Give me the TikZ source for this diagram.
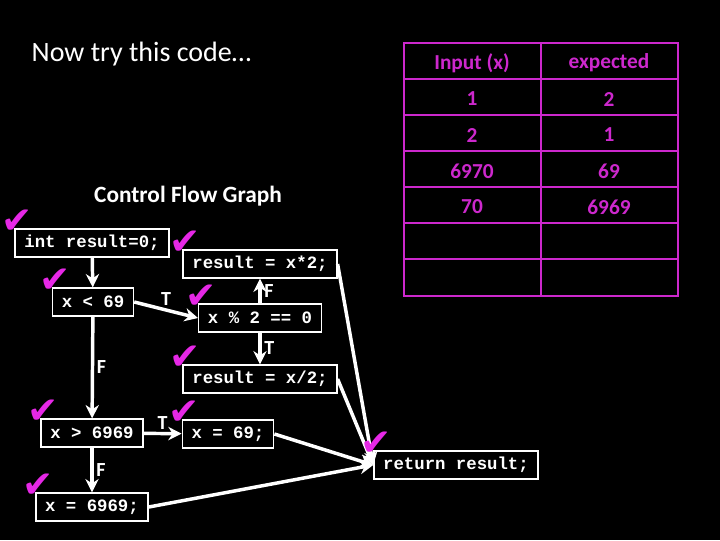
\documentclass[tikz,border=0pt]{standalone}
\usepackage{fontspec}
\setmainfont{Carlito}
\newfontfamily\codefont{Liberation Mono}
\newfontfamily\symfont{DejaVu Sans}
\usetikzlibrary{arrows.meta}
\definecolor{chkpink}{RGB}{230,40,230}
\definecolor{tblpink}{RGB}{205,40,205}
\tikzset{
  codebox/.style={draw=white, line width=1pt, fill=black, text=white,
    font=\codefont\bfseries\fontsize{13}{15}\selectfont,
    inner xsep=7pt, inner ysep=0pt, minimum height=21pt},
  flow/.style={draw=white, line width=2.6pt, -{Stealth[length=10pt,width=10pt]}},
  lbl/.style={text=white, font=\bfseries\fontsize{15}{17}\selectfont, inner sep=2pt},
  chk/.style={text=chkpink, font=\symfont\fontsize{28}{30}\selectfont, inner sep=0pt},
  tbl/.style={draw=tblpink, line width=1.4pt},
  cell/.style={text=tblpink, font=\bfseries\fontsize{16}{18}\selectfont}
}
\begin{document}
\begin{tikzpicture}[x=0.75pt, y=-0.75pt]
  \fill[black] (0,0) rectangle (720,540);
  \useasboundingbox (0,0) rectangle (720,540);

  % titulos
  \node[text=white, anchor=west, font=\fontsize{21}{24}\selectfont] (title) at (27,54) {Now try this code…};
  \node[text=white, font=\bfseries\fontsize{17.5}{20}\selectfont] (cfg) at (188,196) {Control Flow Graph};

  % tabela de casos de teste
  \draw[tbl] (404,43) rectangle (678,296);
  \foreach \r in {1,...,6} {
    \draw[tbl] (404,43+36*\r) -- (678,43+36*\r);
  }
  \draw[tbl] (541,43) -- (541,296);
  \foreach \a/\b [count=\i] in {{Input (x)}/expected, 1/2, 2/1, 6970/69, 70/6969} {
    \node[cell] (in\i) at (472,63+36*\i-36) {\a};
    \node[cell] (exp\i) at (609,63+36*\i-36) {\b};
  }

  % nos do grafo
  \node[codebox] (init) at (92,243) {int result=0;};
  \node[codebox] (lt) at (93,302) {x < 69};
  \node[codebox] (mod) at (260,318) {x \% 2 == 0};
  \node[codebox] (dbl) at (260,264) {result = x*2;};
  \node[codebox] (half) at (260,379) {result = x/2;};
  \node[codebox] (gt) at (92,433) {x > 6969};
  \node[codebox] (set69) at (228,434) {x = 69;};
  \node[codebox] (set6969) at (92,507) {x = 6969;};
  \node[codebox] (ret) at (456,465) {return result;};

  % arestas
  \draw[flow] (init) -- (lt);
  \draw[flow] (lt.east) -- node[lbl, above] {T} (mod.west);
  \draw[flow] (mod) -- node[lbl, right] {F} (dbl);
  \draw[flow] (mod) -- node[lbl, right] {T} (half);
  \draw[flow] (lt) -- node[lbl, right] {F} (gt);
  \draw[flow] (gt) -- node[lbl, above] {T} (set69);
  \draw[flow] (gt) -- node[lbl, right] {F} (set6969);
  \draw[flow] (dbl.east) -- (ret.west);
  \draw[flow] (half.east) -- (ret.west);
  \draw[flow] (set69.east) -- (ret.west);
  \draw[flow] (set6969.east) -- (ret.west);

  % marcas de cobertura
  \foreach \n in {init, lt, mod, dbl, half, gt, set69, set6969, ret} {
    \node[chk] (chk-\n) at ([shift={(3,-7)}]\n.north west) {✔};
  }
\end{tikzpicture}
\end{document}
